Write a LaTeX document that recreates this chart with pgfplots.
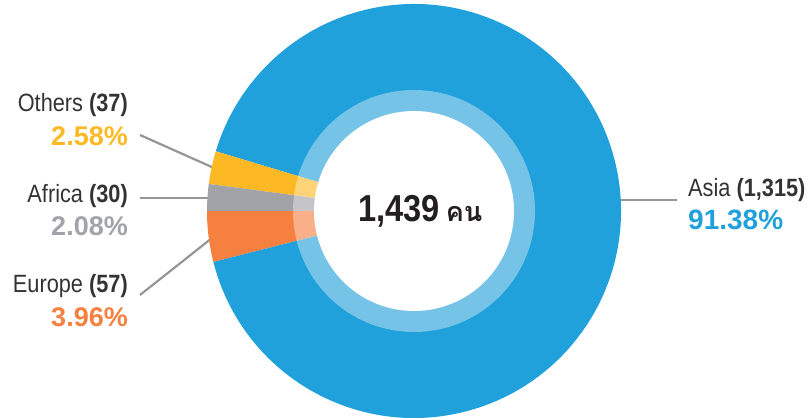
\documentclass[border=0pt]{standalone}
\usepackage{fontspec}
\setmainfont{Liberation Sans}[FakeStretch=0.87]
\newfontfamily\pctfont{Liberation Sans}[FakeStretch=1.0]
\newfontfamily\thaifont[Script=Thai]{Loma}
\usepackage{pgfplots}
\usepackage{pgfplotstable}
\pgfplotsset{compat=1.18}
\definecolor{asia}{RGB}{33,161,219}
\definecolor{others}{RGB}{253,185,36}
\definecolor{africa}{RGB}{162,163,168}
\definecolor{europe}{RGB}{246,128,64}
\definecolor{lbl}{RGB}{51,51,51}
\definecolor{ctr}{RGB}{35,31,32}
\definecolor{leader}{RGB}{150,150,150}
\pgfplotstableread{
name count
Europe 57
Asia 1315
Others 37
Africa 30
}\datatable
\begin{document}
\begin{tikzpicture}
\pgfplotstablegetelem{0}{count}\of\datatable \let\cEu\pgfplotsretval
\pgfplotstablegetelem{1}{count}\of\datatable \let\cAs\pgfplotsretval
\pgfplotstablegetelem{2}{count}\of\datatable \let\cOt\pgfplotsretval
\pgfplotstablegetelem{3}{count}\of\datatable \let\cAf\pgfplotsretval
\pgfmathsetmacro\total{\cEu+\cAs+\cOt+\cAf}
\pgfmathsetmacro\aA{180}
\pgfmathsetmacro\aB{\aA+\cEu/\total*360}
\pgfmathsetmacro\aC{\aB+\cAs/\total*360}
\pgfmathsetmacro\aD{\aC+\cOt/\total*360}
\pgfmathsetmacro\aE{\aD+\cAf/\total*360}
\def\R{207pt}
\begin{axis}[x=1pt,y=1pt,xmin=0,xmax=807,ymin=0,ymax=418,hide axis,clip=false,anchor=south west,at={(0,0)}]
% leader lines
\draw[leader,line width=2.2pt] (axis cs:140,283) -- (axis cs:214,250);
\draw[leader,line width=2.2pt] (axis cs:140,220) -- (axis cs:212,220);
\draw[leader,line width=2.2pt] (axis cs:140,123) -- (axis cs:212,180);
\draw[leader,line width=2.4pt] (axis cs:612,218) -- (axis cs:677,218);
% slices
\fill[europe] (axis cs:414,207) -- ++(\aA:\R) arc[start angle=\aA,end angle=\aB,radius=\R] -- cycle;
\fill[asia] (axis cs:414,207) -- ++(\aB:\R) arc[start angle=\aB,end angle=\aC,radius=\R] -- cycle;
\fill[others] (axis cs:414,207) -- ++(\aC:\R) arc[start angle=\aC,end angle=\aD,radius=\R] -- cycle;
\fill[africa] (axis cs:414,207) -- ++(\aD:\R) arc[start angle=\aD,end angle=\aE,radius=\R] -- cycle;
\fill[white,opacity=0.38] (axis cs:414,207) circle[radius=121pt];
\fill[white] (axis cs:414,207) circle[radius=100pt];
% labels
\node[anchor=base east,inner sep=0pt,text=lbl,font=\fontsize{25}{27}\selectfont] at (axis cs:128,306) {Others \textbf{(37)}};
\node[anchor=base east,inner sep=0pt,text=others,font=\pctfont\fontsize{27}{29}\selectfont\bfseries] at (axis cs:128,272) {2.58\%};
\node[anchor=base east,inner sep=0pt,text=lbl,font=\fontsize{25}{27}\selectfont] at (axis cs:128,215) {Africa \textbf{(30)}};
\node[anchor=base east,inner sep=0pt,text=africa,font=\pctfont\fontsize{27}{29}\selectfont\bfseries] at (axis cs:128,182) {2.08\%};
\node[anchor=base east,inner sep=0pt,text=lbl,font=\fontsize{25}{27}\selectfont] at (axis cs:128,125) {Europe \textbf{(57)}};
\node[anchor=base east,inner sep=0pt,text=europe,font=\pctfont\fontsize{27}{29}\selectfont\bfseries] at (axis cs:128,91) {3.96\%};
\node[anchor=base west,inner sep=0pt,text=lbl,font=\fontsize{25}{27}\selectfont] at (axis cs:688,221) {Asia \textbf{(1,315)}};
\node[anchor=base west,inner sep=0pt,text=asia,font=\pctfont\fontsize{28}{30}\selectfont\bfseries] at (axis cs:688,188) {91.38\%};
\node[anchor=base west,inner sep=0pt,text=ctr] at (axis cs:358,196) {{\fontsize{37.5}{40}\selectfont\bfseries 1,439}\hspace{6pt}{\thaifont\fontsize{27}{29}\selectfont\bfseries คน}};
\end{axis}
\pgfresetboundingbox
\path[use as bounding box] (0,0) rectangle (807pt,418pt);
\end{tikzpicture}
\end{document}
